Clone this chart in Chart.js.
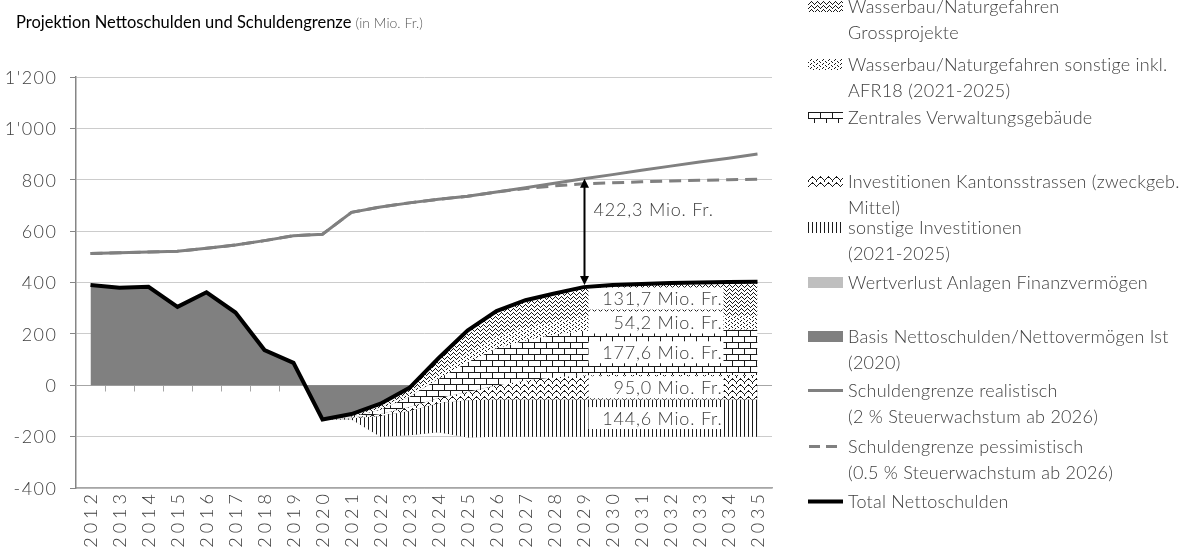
<!DOCTYPE html>
<html>
<head>
<meta charset="utf-8">
<script src="https://cdn.jsdelivr.net/npm/chart.js@4.4.1/dist/chart.umd.min.js"></script>
<style>
html, body { margin: 0; padding: 0; background: #fff; }
#wrap { position: relative; width: 1196px; height: 552px; overflow: hidden; font-family: Lato, "Open Sans", sans-serif; color: #404040; }
#chart { position: absolute; left: 0; top: 0; }
#title { position: absolute; left: 16px; top: 12px; font-size: 16.5px; font-weight: 400; color: #000; white-space: nowrap; }
#title small { font-size: 14px; color: #595959; font-weight: 300; }
.lg { position: absolute; left: 808px; font-size: 18px; font-weight: 300; letter-spacing: 0.25px; line-height: 25.5px; white-space: nowrap; }
.lg canvas { position: absolute; left: 0; top: 7px; }
.lg div { position: absolute; left: 40px; top: 0; }
</style>
</head>
<body>
<div id="wrap">
  <canvas id="chart" width="1196" height="552"></canvas>
  <div id="title">Projektion Nettoschulden und Schuldengrenze <small>(in Mio. Fr.)</small></div>
  <div id="legend"></div>
</div>
<script>
// Data (Mio. Fr.)
const years = [2012, 2013, 2014, 2015, 2016, 2017, 2018, 2019, 2020, 2021, 2022, 2023,
               2024, 2025, 2026, 2027, 2028, 2029, 2030, 2031, 2032, 2033, 2034, 2035];

// stacked components, bottom to top
const basis             = [390, 380, 383, 305, 362, 283, 137, 87, -133, -133, -133, -133, -133, -133, -133, -133, -133, -133, -133, -133, -133, -133, -133, -133];
const wertverlust       = [0, 0, 0, 0, 0, 0, 0, 0, 0, 0, -67, -62, -50, -70, -67, -67, -67, -67, -67, -67, -67, -67, -67, -67];
const sonstigeInv       = [0, 0, 0, 0, 0, 0, 0, 0, 0, 5, 80, 95, 113, 144.6, 144.6, 144.6, 144.6, 144.6, 144.6, 144.6, 144.6, 144.6, 144.6, 144.6];
const kantonsstrassen   = [0, 0, 0, 0, 0, 0, 0, 0, 0, 2, 8, 15, 20, 32, 55, 74, 87, 94, 95, 95, 95, 95, 95, 95];
const verwaltung        = [0, 0, 0, 0, 0, 0, 0, 0, 0, 4, 17, 40, 75, 116, 144, 156, 166, 173, 176, 177, 177.6, 177.6, 177.6, 177.6];
const wasserbauSonstige = [0, 0, 0, 0, 0, 0, 0, 0, 0, 3, 8, 15, 25, 38, 46, 50, 52, 54, 54.2, 54.2, 54.2, 54.2, 54.2, 54.2];
const grossprojekte     = [0, 0, 0, 0, 0, 0, 0, 0, 0, 7, 15, 20, 55, 85, 99, 106, 107, 116, 119.6, 123.6, 126.6, 128.6, 130.6, 131.7];

// lines
const grenzeRealistisch   = [513, 516, 519, 522, 533, 546, 563, 582, 588, 673, 694, 710, 724, 736, 752, 769, 786, 804.3, 820, 837, 853, 869, 884, 900];
const grenzePessimistisch = [513, 516, 519, 522, 533, 546, 563, 582, 588, 673, 694, 710, 724, 736, 752, 766, 776, 784, 788, 792, 795, 798, 800, 802];
const totalNettoschulden  = [390, 380, 383, 305, 362, 283, 137, 87, -133, -112, -72, -10, 105, 213, 289, 331, 357, 382, 390, 394, 398, 400, 402, 403];

const yTicks = [-400, -200, 0, 200, 400, 600, 800, 1000, 1200];
const labelYears = [2029, 2034];   // span of the value boxes
const arrowYear = 2029;

const seriesNames = [
    'Wasserbau/Naturgefahren\nGrossprojekte',
    'Wasserbau/Naturgefahren sonstige  inkl.\nAFR18 (2021-2025)',
    'Zentrales Verwaltungsgebäude',
    'Investitionen Kantonsstrassen (zweckgeb.\nMittel)',
    'sonstige Investitionen\n(2021-2025)',
    'Wertverlust Anlagen Finanzvermögen',
    'Basis Nettoschulden/Nettovermögen Ist\n(2020)',
    'Schuldengrenze realistisch\n(2 % Steuerwachstum ab 2026)',
    'Schuldengrenze pessimistisch\n(0.5 % Steuerwachstum ab 2026)',
    'Total Nettoschulden'
];
// legend layout: centre of first text line
const legendY = [7, 65, 118, 182, 228, 283, 337, 391, 447, 502];

const FONT = 'Lato';
const TEXT = '#404040';

// pattern tiles, black on white like the Excel fills
function makeTile(kind) {
    const c = document.createElement('canvas');
    const g = c.getContext('2d');
    const px = (x, y) => g.fillRect(x, y, 1, 1);
    const sizes = { wave: [6, 4], dots: [6, 4], brick: [12, 12], chevron: [8, 6], vlines: [4, 4] };
    [c.width, c.height] = sizes[kind];
    g.fillStyle = '#fff';
    g.fillRect(0, 0, c.width, c.height);
    g.fillStyle = '#1a1a1a';
    if (kind === 'wave') {
        [[0, 3], [1, 2], [2, 1], [3, 0], [4, 1], [5, 2]].forEach(p => px(...p));
    } else if (kind === 'dots') {
        [[0, 3], [2, 1], [3, 0], [5, 2]].forEach(p => px(...p));
    } else if (kind === 'brick') {
        g.fillRect(0, 0, 12, 1);
        g.fillRect(0, 6, 12, 1);
        g.fillRect(0, 0, 1, 6);
        g.fillRect(6, 6, 1, 6);
    } else if (kind === 'chevron') {
        [[0, 4], [1, 3], [2, 2], [3, 1], [4, 0], [5, 1], [6, 2], [7, 3]].forEach(p => px(...p));
        [[0, 5], [4, 1]].forEach(p => px(...p));
    } else if (kind === 'vlines') {
        g.fillRect(0, 0, 1, 4);
    }
    return c;
}

const mainCtx = document.getElementById('chart').getContext('2d');
const pat = kind => mainCtx.createPattern(makeTile(kind), 'repeat');
const fillKinds = ['wave', 'dots', 'brick', 'chevron', 'vlines', '#bfbfbf', '#808080'];
const fills = fillKinds.map(k => k.startsWith('#') ? k : pat(k));

// cumulative tops of the stack
function cumulate(...arrs) {
    return arrs[0].map((_, i) => arrs.reduce((s, a) => s + a[i], 0));
}
const stackOrder = [basis, wertverlust, sonstigeInv, kantonsstrassen, verwaltung, wasserbauSonstige, grossprojekte];
const tops = stackOrder.map((_, k) => cumulate(...stackOrder.slice(0, k + 1)));

const fmt = v => v.toFixed(1).replace('.', ',');
const fmtThousands = v => {
    const s = String(Math.abs(v));
    const t = s.length > 3 ? s.slice(0, -3) + "'" + s.slice(-3) : s;
    return (v < 0 ? '-' : '') + t;
};

// areas: index 0 = top of stack (drawn last), each fills down to the next one
const areaSets = [];
for (let k = 0; k < 7; k++) {
    const level = 6 - k;
    areaSets.push({
        label: seriesNames[k],
        data: tops[level],
        backgroundColor: fills[k],
        borderWidth: 0,
        borderColor: 'transparent',
        pointRadius: 0,
        fill: level === 0 ? 'origin' : '+1',
        order: 0
    });
}

const lineSets = [
    { label: seriesNames[7], data: grenzeRealistisch, borderColor: '#808080', borderWidth: 3, order: -1 },
    { label: seriesNames[8], data: grenzePessimistisch, borderColor: '#808080', borderWidth: 3, borderDash: [12, 7], order: -1 },
    { label: seriesNames[9], data: totalNettoschulden, borderColor: '#000', borderWidth: 4, order: -2 }
].map(d => Object.assign({ pointRadius: 0, fill: false, backgroundColor: 'transparent' }, d));

// zero axis with category tick marks
const zeroAxis = {
    id: 'zeroAxis',
    beforeDatasetsDraw(chart) {
        const { ctx, scales: { x, y } } = chart;
        const y0 = Math.round(y.getPixelForValue(0)) + 0.5;
        ctx.save();
        ctx.strokeStyle = '#a6a6a6';
        ctx.lineWidth = 1;
        ctx.beginPath();
        for (let i = 1; i < years.length; i++) {
            const xb = Math.round((x.getPixelForValue(i - 1) + x.getPixelForValue(i)) / 2) + 0.5;
            ctx.moveTo(xb, y0);
            ctx.lineTo(xb, y0 + 6);
        }
        ctx.stroke();
        ctx.restore();
    }
};

// tick labels with the wide spacing of the original font
const axisLabels = {
    id: 'axisLabels',
    afterDraw(chart) {
        const { ctx, scales: { x, y } } = chart;
        ctx.save();
        ctx.fillStyle = TEXT;
        ctx.font = `300 18px ${FONT}`;
        ctx.letterSpacing = '1.5px';
        ctx.textAlign = 'right';
        ctx.textBaseline = 'middle';
        yTicks.forEach(v => ctx.fillText(fmtThousands(v), y.right - 20 + 1.5, y.getPixelForValue(v) + 1));
        ctx.letterSpacing = '4px';
        years.forEach((yr, i) => {
            ctx.save();
            ctx.translate(x.getPixelForValue(i) + 1, x.top + 6);
            ctx.rotate(-Math.PI / 2);
            ctx.fillText(String(yr), 4, 0);
            ctx.restore();
        });
        ctx.restore();
    }
};

// white value boxes over the stack, drawn after the last area, before the lines
const valueBoxes = {
    id: 'valueBoxes',
    afterDatasetDraw(chart, args) {
        if (args.index !== 0) return;
        const { ctx, scales: { x, y } } = chart;
        const iEnd = years.length - 1;
        const left = x.getPixelForValue(years.indexOf(labelYears[0])) + 5;
        const right = x.getPixelForValue(years.indexOf(labelYears[1])) - 5;
        let base = basis[iEnd] + wertverlust[iEnd];
        ctx.save();
        ctx.font = `300 18px ${FONT}`;
        ctx.letterSpacing = '0.8px';
        ctx.textAlign = 'right';
        ctx.textBaseline = 'middle';
        [sonstigeInv, kantonsstrassen, verwaltung, wasserbauSonstige, grossprojekte].forEach(arr => {
            const v = arr[iEnd];
            const cy = y.getPixelForValue(base + v / 2);
            ctx.fillStyle = '#fff';
            ctx.fillRect(left, cy - 11, right - left, 22);
            ctx.fillStyle = TEXT;
            ctx.fillText(fmt(v) + ' Mio. Fr.', right - 1, cy + 1);
            base += v;
        });
        ctx.restore();
    }
};

// double arrow between Schuldengrenze and Total
const gapArrow = {
    id: 'gapArrow',
    afterDatasetsDraw(chart) {
        const { ctx, scales: { x, y } } = chart;
        const i = years.indexOf(arrowYear);
        const ax = Math.round(x.getPixelForValue(i)) + 0.5;
        const yTop = y.getPixelForValue(grenzeRealistisch[i]);
        const yBot = y.getPixelForValue(totalNettoschulden[i]) - 2;
        ctx.save();
        ctx.strokeStyle = '#000';
        ctx.fillStyle = '#000';
        ctx.lineWidth = 2;
        ctx.beginPath();
        ctx.moveTo(ax, yTop + 6);
        ctx.lineTo(ax, yBot - 6);
        ctx.stroke();
        ctx.beginPath();
        ctx.moveTo(ax, yTop); ctx.lineTo(ax - 4.5, yTop + 9); ctx.lineTo(ax + 4.5, yTop + 9); ctx.closePath();
        ctx.moveTo(ax, yBot); ctx.lineTo(ax - 4.5, yBot - 9); ctx.lineTo(ax + 4.5, yBot - 9); ctx.closePath();
        ctx.fill();
        ctx.font = `300 18px ${FONT}`;
        ctx.letterSpacing = '0.8px';
        ctx.fillStyle = TEXT;
        ctx.textAlign = 'left';
        ctx.textBaseline = 'middle';
        const gap = grenzeRealistisch[i] - totalNettoschulden[i];
        ctx.fillText(fmt(gap) + ' Mio. Fr.', ax + 9, yTop + 0.3 * (yBot - yTop));
        ctx.restore();
    }
};

new Chart(mainCtx, {
    type: 'line',
    data: { labels: years.map(String), datasets: [...areaSets, ...lineSets] },
    options: {
        responsive: false,
        animation: false,
        layout: { padding: { left: 0, top: 77, right: 424, bottom: 0 } },
        elements: { line: { tension: 0 }, point: { radius: 0 } },
        plugins: { legend: { display: false }, tooltip: { enabled: false }, title: { display: false } },
        scales: {
            x: {
                offset: true,
                grid: { display: false, drawTicks: false },
                border: { color: '#a6a6a6', width: 1.5 },
                ticks: { display: false, autoSkip: false },
                afterFit: s => { s.height = 64; }
            },
            y: {
                min: yTicks[0],
                max: yTicks[yTicks.length - 1],
                afterBuildTicks: s => { s.ticks = yTicks.map(v => ({ value: v })); },
                ticks: { display: false },
                grid: {
                    color: c => (c.tick && c.tick.value === 0) ? '#a6a6a6' : '#cccccc',
                    tickColor: '#868686', tickLength: 6, lineWidth: 1
                },
                border: { color: '#868686', width: 1.5 },
                afterFit: s => { s.width = 76; }
            }
        }
    },
    plugins: [zeroAxis, valueBoxes, gapArrow, axisLabels]
});

// legend
const legend = document.getElementById('legend');
seriesNames.forEach((name, k) => {
    const item = document.createElement('div');
    item.className = 'lg';
    item.style.top = (legendY[k] - 12.75) + 'px';
    const sw = document.createElement('canvas');
    sw.width = 35; sw.height = 11;
    const g = sw.getContext('2d');
    if (k < 7) {
        const kind = fillKinds[k];
        g.fillStyle = kind.startsWith('#') ? kind : g.createPattern(makeTile(kind), 'repeat');
        g.fillRect(0, 0, 35, 11);
    } else {
        const ds = lineSets[k - 7];
        g.strokeStyle = ds.borderColor;
        g.lineWidth = ds.borderWidth;
        if (ds.borderDash) g.setLineDash([11, 6]);
        g.beginPath();
        g.moveTo(ds.borderDash ? 1 : 0, 5.5);
        g.lineTo(35, 5.5);
        g.stroke();
    }
    item.appendChild(sw);
    const txt = document.createElement('div');
    txt.innerHTML = name.split('\n').join('<br>');
    item.appendChild(txt);
    legend.appendChild(item);
});
</script>
</body>
</html>
